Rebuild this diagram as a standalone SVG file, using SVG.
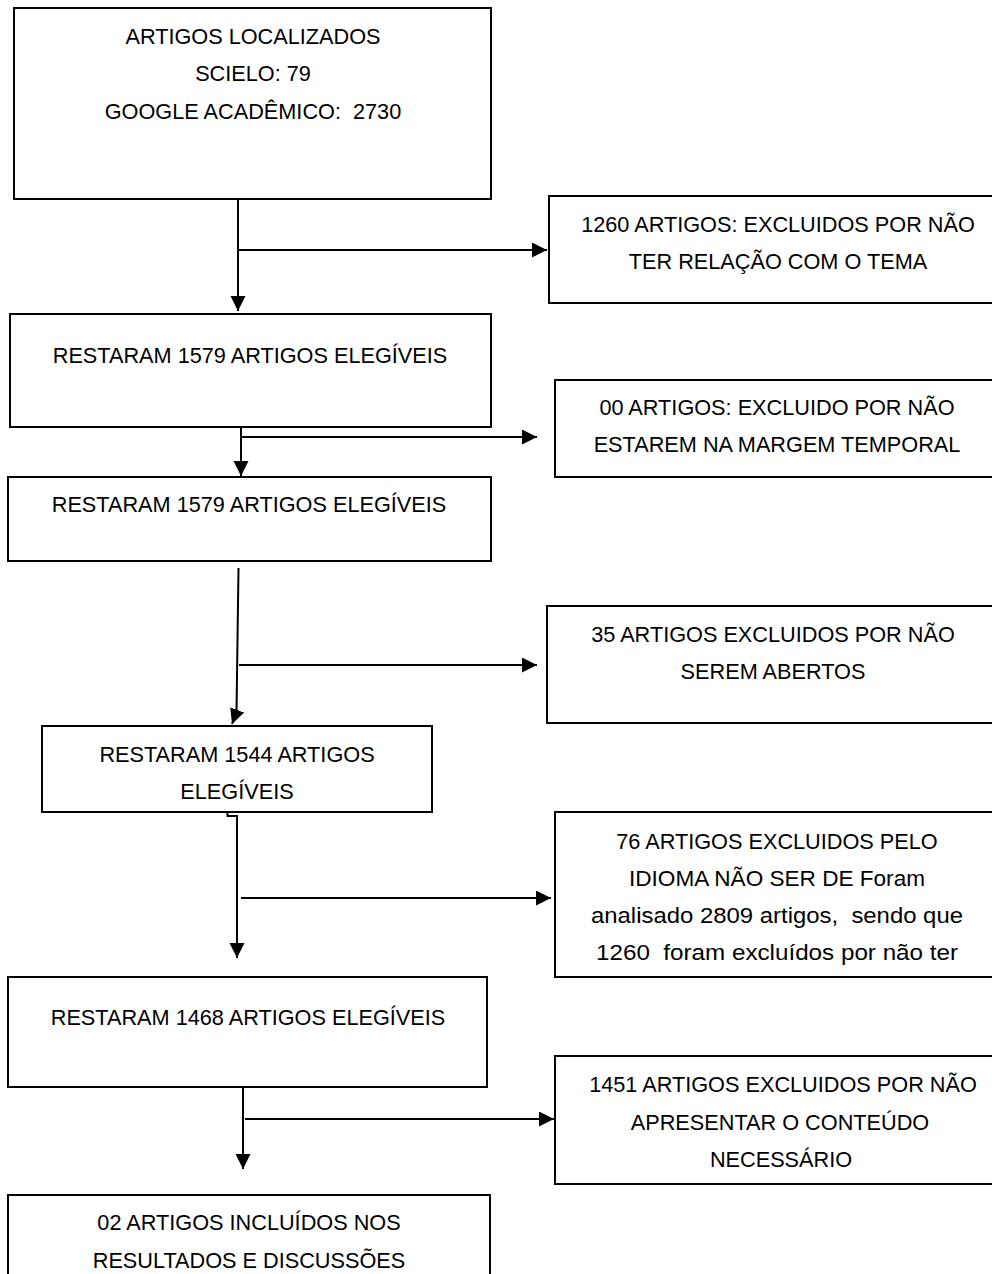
<svg xmlns="http://www.w3.org/2000/svg" width="992" height="1274" viewBox="0 0 992 1274">
  <style>
    .box { fill: #ffffff; stroke: #000000; stroke-width: 2; }
    .t { font-family: "Liberation Sans", Arial, sans-serif; font-size: 21.7px; fill: #000000; text-anchor: middle; white-space: pre; }
    .c { fill: none; stroke: #000000; stroke-width: 2; }
  </style>
  <defs>
    <marker id="arr" markerUnits="userSpaceOnUse" markerWidth="16" markerHeight="16" viewBox="0 0 16 16" refX="15" refY="7.5" orient="auto">
      <path d="M0,0 L15,7.5 L0,15 z" fill="#000000"/>
    </marker>
  </defs>
  <rect width="992" height="1274" fill="#ffffff"/>

  <g id="connectors">
    <line class="c" x1="238" y1="199" x2="238" y2="311" marker-end="url(#arr)"/>
    <line class="c" x1="238" y1="250" x2="547" y2="250" marker-end="url(#arr)"/>
    <line class="c" x1="241" y1="427" x2="241" y2="476" marker-end="url(#arr)"/>
    <line class="c" x1="241" y1="437" x2="537" y2="437" marker-end="url(#arr)"/>
    <path class="c" d="M238.5,568 L236.5,712 L232,724" marker-end="url(#arr)"/>
    <line class="c" x1="239" y1="665" x2="537" y2="665" marker-end="url(#arr)"/>
    <path class="c" d="M227.5,807 L227.5,816 L237,816 L237,958" marker-end="url(#arr)"/>
    <line class="c" x1="241" y1="898" x2="551" y2="898" marker-end="url(#arr)"/>
    <line class="c" x1="243" y1="1087" x2="243" y2="1169" marker-end="url(#arr)"/>
    <line class="c" x1="245" y1="1119" x2="554" y2="1119" marker-end="url(#arr)"/>
  </g>

  <g id="n1">
    <rect class="box" x="14" y="8" width="477" height="191"/>
    <text class="t" x="253" y="44">ARTIGOS LOCALIZADOS</text>
    <text class="t" x="253" y="81">SCIELO: 79</text>
    <text class="t" x="253" y="119">GOOGLE ACADÊMICO:  2730</text>
  </g>

  <g id="n2">
    <rect class="box" x="549" y="196" width="460" height="107"/>
    <text class="t" x="778" y="232">1260 ARTIGOS: EXCLUIDOS POR NÃO</text>
    <text class="t" x="778" y="269">TER RELAÇÃO COM O TEMA</text>
  </g>

  <g id="n3">
    <rect class="box" x="10" y="314" width="481" height="113"/>
    <text class="t" x="250" y="363">RESTARAM 1579 ARTIGOS ELEGÍVEIS</text>
  </g>

  <g id="n4">
    <rect class="box" x="555" y="380" width="454" height="97"/>
    <text class="t" x="777" y="415">00 ARTIGOS: EXCLUIDO POR NÃO</text>
    <text class="t" x="777" y="452">ESTAREM NA MARGEM TEMPORAL</text>
  </g>

  <g id="n5">
    <rect class="box" x="8" y="477" width="483" height="84"/>
    <text class="t" x="249" y="512">RESTARAM 1579 ARTIGOS ELEGÍVEIS</text>
  </g>

  <g id="n6">
    <rect class="box" x="547" y="606" width="462" height="117"/>
    <text class="t" x="773" y="642">35 ARTIGOS EXCLUIDOS POR NÃO</text>
    <text class="t" x="773" y="679">SEREM ABERTOS</text>
  </g>

  <g id="n7">
    <rect class="box" x="42" y="726" width="390" height="86"/>
    <text class="t" x="237" y="762">RESTARAM 1544 ARTIGOS</text>
    <text class="t" x="237" y="799">ELEGÍVEIS</text>
  </g>

  <g id="n8">
    <rect class="box" x="555" y="812" width="454" height="165"/>
    <text class="t" x="777" y="849">76 ARTIGOS EXCLUIDOS PELO</text>
    <text class="t" x="777" y="886" textLength="296" lengthAdjust="spacingAndGlyphs">IDIOMA NÃO SER DE Foram</text>
    <text class="t" x="777" y="923" textLength="372" lengthAdjust="spacingAndGlyphs">analisado 2809 artigos,  sendo que</text>
    <text class="t" x="777" y="960" textLength="362" lengthAdjust="spacingAndGlyphs">1260  foram excluídos por não ter</text>
  </g>

  <g id="n9">
    <rect class="box" x="8" y="977" width="479" height="110"/>
    <text class="t" x="248" y="1025">RESTARAM 1468 ARTIGOS ELEGÍVEIS</text>
  </g>

  <g id="n10">
    <rect class="box" x="555" y="1056" width="454" height="128"/>
    <text class="t" x="783" y="1092">1451 ARTIGOS EXCLUIDOS POR NÃO</text>
    <text class="t" x="780" y="1130">APRESENTAR O CONTEÚDO</text>
    <text class="t" x="781" y="1167">NECESSÁRIO</text>
  </g>

  <g id="n11">
    <rect class="box" x="8" y="1195" width="482" height="100"/>
    <text class="t" x="249" y="1230">02 ARTIGOS INCLUÍDOS NOS</text>
    <text class="t" x="249" y="1268">RESULTADOS E DISCUSSÕES</text>
  </g>
</svg>
